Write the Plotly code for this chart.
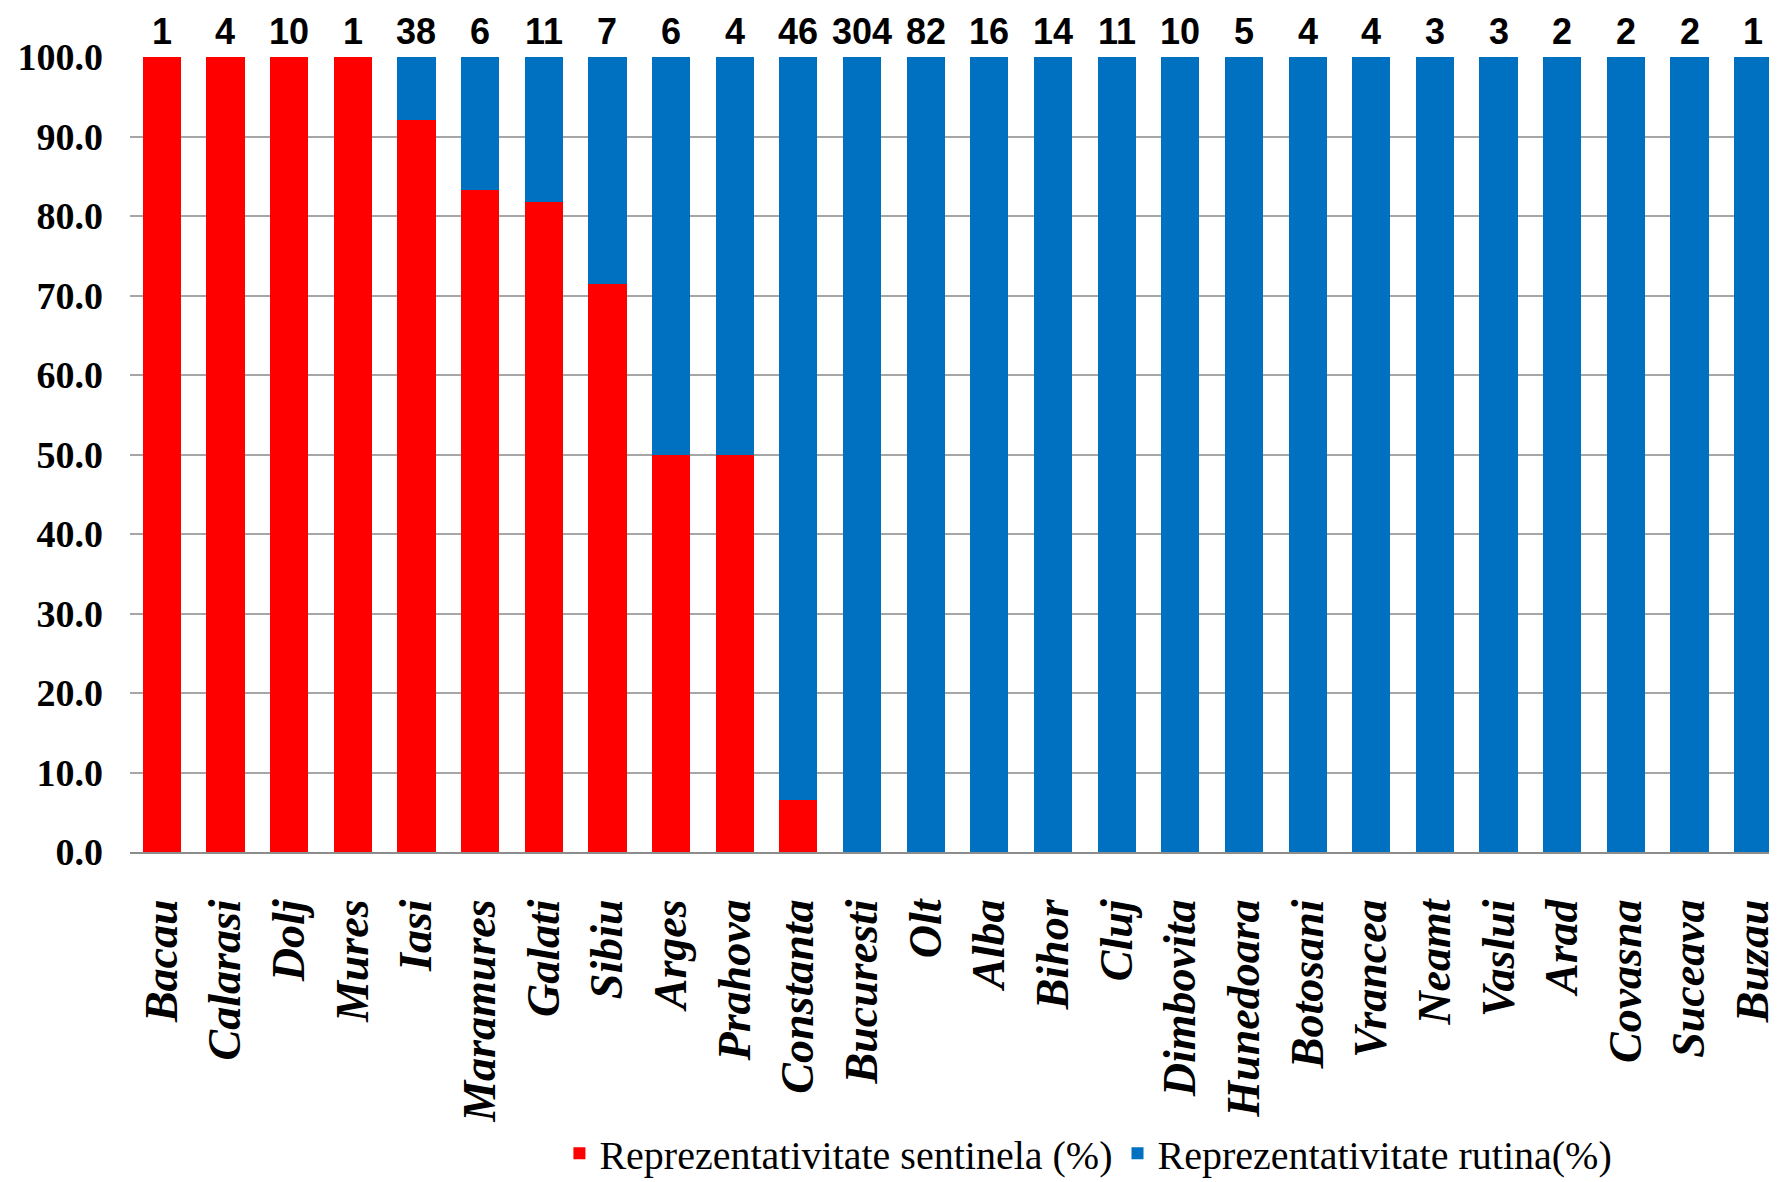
import plotly.graph_objects as go

judete = ["Bacau", "Calarasi", "Dolj", "Mures", "Iasi", "Maramures", "Galati", "Sibiu",
          "Arges", "Prahova", "Constanta", "Bucuresti", "Olt", "Alba", "Bihor", "Cluj",
          "Dimbovita", "Hunedoara", "Botosani", "Vrancea", "Neamt", "Vaslui", "Arad",
          "Covasna", "Suceava", "Buzau"]
numar_cazuri = [1, 4, 10, 1, 38, 6, 11, 7, 6, 4, 46, 304, 82, 16, 14, 11, 10, 5, 4, 4, 3, 3, 2, 2, 2, 1]
sentinela = [100.0, 100.0, 100.0, 100.0, 92.1, 83.3, 81.8, 71.4, 50.0, 50.0, 6.5,
             0, 0, 0, 0, 0, 0, 0, 0, 0, 0, 0, 0, 0, 0, 0]
rutina = [0.0, 0.0, 0.0, 0.0, 7.9, 16.7, 18.2, 28.6, 50.0, 50.0, 93.5,
          100, 100, 100, 100, 100, 100, 100, 100, 100, 100, 100, 100, 100, 100, 100]
y_ticks = [0, 10, 20, 30, 40, 50, 60, 70, 80, 90, 100]

serif = "Liberation Serif, Times New Roman, serif"

fig = go.Figure()
fig.add_trace(go.Bar(x=judete, y=sentinela, name="Reprezentativitate sentinela (%)",
                     marker=dict(color="#FF0000", line=dict(width=0))))
fig.add_trace(go.Bar(x=judete, y=rutina, name="Reprezentativitate rutina(%)",
                     marker=dict(color="#0070C0", line=dict(width=0))))

for j, n in zip(judete, numar_cazuri):
    fig.add_annotation(x=j, y=100, text=str(n), showarrow=False, yanchor="bottom",
                       yshift=3, font=dict(family="Liberation Sans, Arial, sans-serif",
                                           size=36, color="black", weight="bold"))

fig.update_layout(
    width=1777, height=1182,
    barmode="stack", bargap=0.4,
    plot_bgcolor="white", paper_bgcolor="white",
    margin=dict(l=122, r=0, t=49, b=338, autoexpand=False),
    showlegend=True,
    legend=dict(orientation="h", traceorder="normal",
                xref="container", yref="container",
                x=0.608, xanchor="center", y=0.031, yanchor="middle",
                font=dict(family=serif, size=40, color="black"),
                itemwidth=30, tracegroupgap=0),
    xaxis=dict(range=[-0.5, 25.5], tickangle=-90, showgrid=False, automargin=False,
               showline=True, linecolor="#8c8c8c", linewidth=2,
               ticks="", ticklabelstandoff=27,
               tickfont=dict(family=serif, size=46, color="black", weight="bold", style="italic")),
    yaxis=dict(range=[0, 100], tickvals=y_ticks, ticktext=[f"{v:.1f}" for v in y_ticks],
               showgrid=True, gridcolor="#a6a6a6", gridwidth=2, automargin=False,
               zeroline=False, showline=False, ticks="", ticklabelstandoff=26,
               tickfont=dict(family=serif, size=38, color="black", weight="bold")),
)

fig.write_html("out.html")
